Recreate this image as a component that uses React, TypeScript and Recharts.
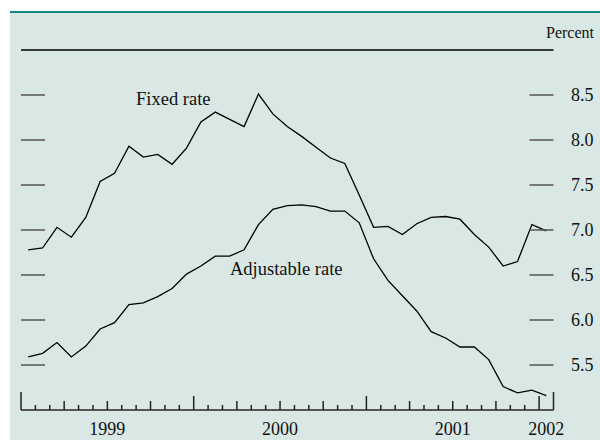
import { LineChart, Line, XAxis, YAxis, ReferenceLine } from "recharts";

const MONTHS = [
  "1999-01", "1999-02", "1999-03", "1999-04", "1999-05", "1999-06",
  "1999-07", "1999-08", "1999-09", "1999-10", "1999-11", "1999-12",
  "2000-01", "2000-02", "2000-03", "2000-04", "2000-05", "2000-06",
  "2000-07", "2000-08", "2000-09", "2000-10", "2000-11", "2000-12",
  "2001-01", "2001-02", "2001-03", "2001-04", "2001-05", "2001-06",
  "2001-07", "2001-08", "2001-09", "2001-10", "2001-11", "2001-12",
  "2002-01",
];

const FIXED = [
  6.78, 6.8, 7.03, 6.92, 7.14, 7.54, 7.63, 7.93, 7.81, 7.84, 7.73, 7.91,
  8.2, 8.31, 8.23, 8.15, 8.51, 8.29, 8.15, 8.04, 7.92, 7.8, 7.74, 7.39,
  7.03, 7.04, 6.95, 7.07, 7.14, 7.15, 7.12, 6.95, 6.81, 6.6, 6.65, 7.06,
  6.99,
];

const ADJUSTABLE = [
  5.59, 5.63, 5.75, 5.59, 5.71, 5.9, 5.97, 6.17, 6.19, 6.26, 6.35, 6.51,
  6.6, 6.71, 6.71, 6.78, 7.06, 7.23, 7.27, 7.28, 7.26, 7.21, 7.21, 7.08,
  6.68, 6.44, 6.27, 6.1, 5.87, 5.8, 5.7, 5.7, 5.56, 5.26, 5.19, 5.22,
  5.16,
];

const Y_TICKS = [5.5, 6.0, 6.5, 7.0, 7.5, 8.0, 8.5];
const YEARS = ["1999", "2000", "2001", "2002"];

const W = 600;
const H = 440;
const LEFT = 21;
const RIGHT = 553.5;
const TOP = 50;
const BOTTOM = 410;
const FONT = "'Liberation Serif', 'Times New Roman', serif";

const N = MONTHS.length;
const data = MONTHS.map((m, i) => ({
  month: m,
  x: i + 0.5,
  fixed: FIXED[i],
  adjustable: ADJUSTABLE[i],
}));

// year label sits in the middle of the months it covers
const yearCenters: Record<string, string> = {};
YEARS.forEach((y, k) => {
  const start = k * 12;
  const end = Math.min(start + 12, N);
  yearCenters[String((start + end) / 2)] = y;
});

const boundaries = Array.from({ length: N + 1 }, (_, i) => i);
const xTicks = Array.from(
  new Set([...boundaries, ...Object.keys(yearCenters).map(Number)])
).sort((a, b) => a - b);

function XTick(props: any) {
  const { x, payload } = props;
  const v = payload.value;
  let h = 0;
  if (Number.isInteger(v)) {
    if (v === 0 || v === N) h = 18;
    else if (v % 12 === 0) h = 14;
    else if (v % 3 === 0) h = 9;
    else h = 5;
  }
  const label = yearCenters[String(v)];
  return (
    <g>
      {h > 0 && (
        <line x1={x} x2={x} y1={BOTTOM} y2={BOTTOM - h} stroke="#222" strokeWidth={1.5} />
      )}
      {label && (
        <text x={x} y={435} textAnchor="middle" fontFamily={FONT} fontSize={18} fill="#111">
          {label}
        </text>
      )}
    </g>
  );
}

function YTick(props: any) {
  const { y, payload } = props;
  return (
    <g>
      <line x1={LEFT} x2={LEFT + 24} y1={y} y2={y} stroke="#555" strokeWidth={1.5} />
      <line x1={RIGHT - 24} x2={RIGHT} y1={y} y2={y} stroke="#555" strokeWidth={1.5} />
      <text x={RIGHT + 17.5} y={y + 6} fontFamily={FONT} fontSize={18} fill="#111">
        {Number(payload.value).toFixed(1)}
      </text>
    </g>
  );
}

export default function App() {
  return (
    <div style={{ position: "absolute", left: 0, top: 0, width: W, height: H, background: "#fff" }}>
      <div
        style={{
          position: "absolute",
          left: 10,
          top: 13,
          width: W - 10,
          height: H - 13,
          background: "#d9e8e4",
        }}
      />
      <div
        style={{
          position: "absolute",
          left: 10,
          top: 10.5,
          width: W - 10,
          height: 2.5,
          background: "#108b80",
        }}
      />
      <div style={{ position: "absolute", left: 0, top: 0 }}>
        <LineChart
          width={W}
          height={H}
          data={data}
          margin={{ top: TOP, right: W - RIGHT, bottom: 0, left: 0 }}
        >
          <XAxis
            dataKey="x"
            type="number"
            domain={[0, N]}
            ticks={xTicks}
            interval={0}
            height={H - BOTTOM}
            tickLine={false}
            axisLine={{ stroke: "#555", strokeWidth: 2 }}
            tick={(p: any) => <XTick {...p} />}
          />
          <YAxis
            type="number"
            domain={[5, 9]}
            ticks={Y_TICKS}
            interval={0}
            width={LEFT}
            axisLine={false}
            tickLine={false}
            tick={(p: any) => <YTick {...p} />}
          />
          <ReferenceLine y={9} stroke="#000" strokeWidth={1.5} />
          <Line
            dataKey="fixed"
            stroke="#000"
            strokeWidth={1.3}
            dot={false}
            isAnimationActive={false}
          />
          <Line
            dataKey="adjustable"
            stroke="#000"
            strokeWidth={1.3}
            dot={false}
            isAnimationActive={false}
          />
        </LineChart>
      </div>
      <svg
        width={W}
        height={H}
        style={{ position: "absolute", left: 0, top: 0, pointerEvents: "none" }}
      >
        <text x={546} y={38} fontFamily={FONT} fontSize={16} fill="#111">
          Percent
        </text>
        <text x={136} y={105} fontFamily={FONT} fontSize={18.5} fill="#111">
          Fixed rate
        </text>
        <text x={230} y={274.5} fontFamily={FONT} fontSize={18.5} fill="#111">
          Adjustable rate
        </text>
      </svg>
    </div>
  );
}
